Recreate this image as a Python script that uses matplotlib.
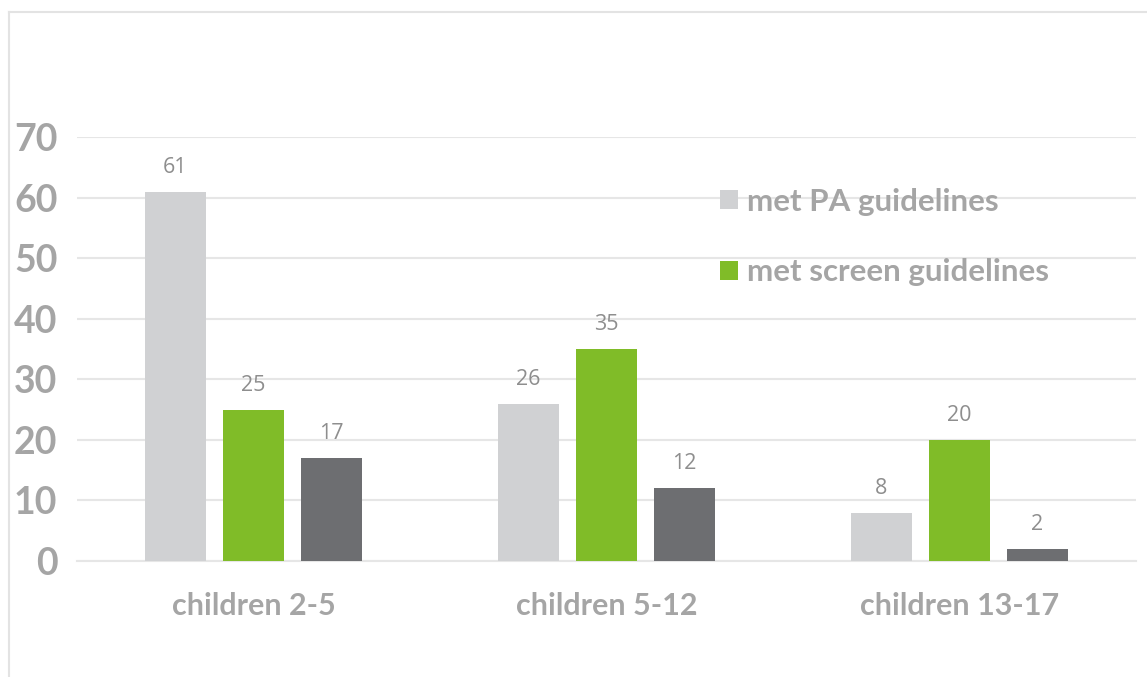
import matplotlib.pyplot as plt
from matplotlib.lines import Line2D
import numpy as np

categories = ["children 2-5", "children 5-12", "children 13-17"]
met_pa = [61, 26, 8]
met_screen = [25, 35, 20]
met_both = [17, 12, 2]
series_names = ["met PA guidelines", "met screen guidelines", "met both guidelines"]
y_ticks = [0, 10, 20, 30, 40, 50, 60, 70]

COLORS = ["#D0D1D3", "#80BC28", "#6D6E71"]
TEXT_GRAY = "#A5A5A5"
LABEL_GRAY = "#8E8E8E"
GRID = "#E6E6E6"
BOLD_FONT = ['Lato', 'DejaVu Sans']

plt.rcParams['font.family'] = ['Open Sans', 'DejaVu Sans']

fig = plt.figure(figsize=(11.47, 6.77), dpi=100)
ax = fig.add_axes([77 / 1147, 1 - 561 / 677, (1136 - 77) / 1147, (561 - 137) / 677])

x = np.arange(len(categories))
width = 61 / 353
step = 78 / 353
bars = []
for i, vals in enumerate([met_pa, met_screen, met_both]):
    b = ax.bar(x + (i - 1) * step, vals, width, color=COLORS[i], label=series_names[i], zorder=3)
    bars.append(b)
    for rect, v in zip(b, vals):
        ax.annotate(str(v), (rect.get_x() + rect.get_width() / 2, v), xytext=(0, 10),
                    textcoords="offset points", ha="center", va="bottom",
                    fontsize=15.5, color=LABEL_GRAY, clip_on=False)

ax.set_xlim(-0.5, 2.5)
ax.set_ylim(0, 70)
ax.set_yticks(y_ticks)
ax.set_yticklabels([str(t) for t in y_ticks], fontsize=27, fontweight="bold",
                   color=TEXT_GRAY, family=BOLD_FONT)
ax.set_xticks(x)
ax.set_xticklabels(categories, fontsize=22, fontweight="bold", color=TEXT_GRAY, family=BOLD_FONT)
ax.tick_params(axis="y", length=0, pad=14)
ax.tick_params(axis="x", length=0, pad=22)
ax.yaxis.grid(True, color=GRID, linewidth=1.5, zorder=0)
for s in ["top", "right", "left"]:
    ax.spines[s].set_visible(False)
ax.spines["bottom"].set_color(GRID)
ax.spines["bottom"].set_linewidth(1.5)

# legend only shows the first two series (third is cut off in the original)
leg = ax.legend(handles=bars[:2], loc="upper left", bbox_to_anchor=(720 / 1147, 1 - 188 / 677),
                bbox_transform=fig.transFigure, frameon=False,
                prop={'family': BOLD_FONT, 'weight': 'bold', 'size': 22.5},
                handlelength=0.56, handleheight=0.56, handletextpad=0.3, labelspacing=1.35,
                borderaxespad=0, borderpad=0)
for t in leg.get_texts():
    t.set_color(TEXT_GRAY)

# outer chart border (only left and top edges visible)
fig.add_artist(Line2D([9 / 1147, 9 / 1147], [0, 1 - 12 / 677], transform=fig.transFigure,
                      color="#E3E3E3", linewidth=1.5))
fig.add_artist(Line2D([9 / 1147, 1], [1 - 12 / 677, 1 - 12 / 677], transform=fig.transFigure,
                      color="#E3E3E3", linewidth=1.5))

fig.savefig("out.png", dpi=100)
